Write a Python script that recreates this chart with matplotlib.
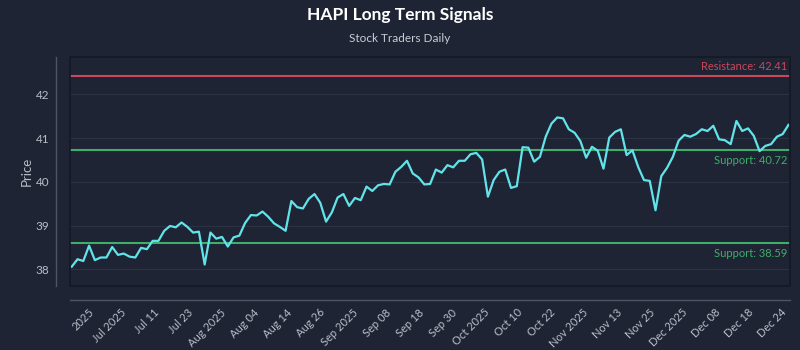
#!/usr/bin/env python3
"""
HAPI long term signals: price line with support / resistance levels
"""

import numpy as np
import matplotlib
matplotlib.use('Agg')
import matplotlib.pyplot as plt
from matplotlib.patches import Rectangle

plt.rcParams['font.family'] = ['Lato', 'DejaVu Sans']

# daily closing prices
prices = [
    38.06, 38.23, 38.19, 38.54, 38.21, 38.27, 38.27, 38.51, 38.33, 38.36,
    38.29, 38.27, 38.49, 38.46, 38.65, 38.65, 38.88, 38.99, 38.96, 39.07,
    38.97, 38.84, 38.86, 38.11, 38.84, 38.70, 38.74, 38.52, 38.73, 38.77,
    39.06, 39.24, 39.23, 39.32, 39.20, 39.05, 38.97, 38.88, 39.56, 39.42,
    39.39, 39.61, 39.72, 39.52, 39.09, 39.30, 39.64, 39.72, 39.45, 39.63,
    39.58, 39.89, 39.79, 39.92, 39.95, 39.94, 40.23, 40.34, 40.48, 40.19,
    40.10, 39.94, 39.95, 40.28, 40.21, 40.38, 40.33, 40.48, 40.48, 40.63,
    40.66, 40.51, 39.66, 40.04, 40.23, 40.28, 39.86, 39.90, 40.79, 40.78,
    40.46, 40.57, 41.03, 41.33, 41.47, 41.45, 41.20, 41.12, 40.93, 40.55,
    40.80, 40.71, 40.30, 41.01, 41.14, 41.20, 40.61, 40.72, 40.34, 40.04,
    40.02, 39.35, 40.13, 40.32, 40.57, 40.94, 41.07, 41.03, 41.09, 41.20,
    41.16, 41.28, 40.97, 40.95, 40.86, 41.39, 41.16, 41.22, 41.05, 40.70,
    40.82, 40.86, 41.03, 41.09, 41.30,
]

tick_labels = [
    '2025', 'Jul 2025', 'Jul 11', 'Jul 23', 'Aug 2025', 'Aug 04', 'Aug 14',
    'Aug 26', 'Sep 2025', 'Sep 08', 'Sep 18', 'Sep 30', 'Oct 2025', 'Oct 10',
    'Oct 22', 'Nov 2025', 'Nov 13', 'Nov 25', 'Dec 2025', 'Dec 08', 'Dec 18',
    'Dec 24',
]

resistance_levels = [42.41]
support_levels = [40.72, 38.59]
y_ticks = [38, 39, 40, 41, 42]

# colours
BG = '#1e2433'
GRID = '#2b3243'
FRAME = '#141925'
AXIS = '#4d5466'
LINE = '#62e3ea'
RED = '#c9485c'
GREEN = '#3fae6a'
TEXT = '#b9bdc8'


def draw_chart():
    fig = plt.figure(figsize=(8, 3.5), dpi=100, facecolor=BG)
    ax = fig.add_axes([0.0875, 0.183, 0.9006, 0.654])
    ax.set_facecolor(BG)

    # axis lines offset from the plot area (before ticks: this resets them)
    for side in ['top', 'right']:
        ax.spines[side].set_visible(False)
    for side in ['left', 'bottom']:
        ax.spines[side].set_position(('outward', 10))
        ax.spines[side].set_color(AXIS)
        ax.spines[side].set_linewidth(1)

    x = np.arange(len(prices))
    ax.plot(x, prices, color=LINE, lw=1.6, zorder=4, solid_joinstyle='round')

    # resistance / support levels
    for lvl in resistance_levels:
        ax.axhline(lvl, color=RED, lw=1.5, zorder=3)
        ax.annotate(f'Resistance: {lvl:.2f}', xy=(1, lvl),
                    xycoords=('axes fraction', 'data'), xytext=(-2.5, 3),
                    textcoords='offset points', ha='right', va='bottom',
                    color=RED, fontsize=8)
    for lvl in support_levels:
        ax.axhline(lvl, color=GREEN, lw=1.5, zorder=3)
        ax.annotate(f'Support: {lvl:.2f}', xy=(1, lvl),
                    xycoords=('axes fraction', 'data'), xytext=(-2.5, -3.5),
                    textcoords='offset points', ha='right', va='top',
                    color=GREEN, fontsize=8)

    ax.set_xlim(-0.3, len(prices) - 0.65)
    ax.set_ylim(37.62, 42.85)

    ax.tick_params(axis='both', length=0, colors=TEXT, labelsize=8.5)
    ax.tick_params(axis='x', pad=5, labelsize=8)
    ax.tick_params(axis='y', pad=5)

    ax.set_yticks(y_ticks)
    ax.set_yticklabels([str(t) for t in y_ticks])
    ax.grid(axis='y', color=GRID, lw=0.8, zorder=0)
    ax.set_axisbelow(True)

    ticks = np.linspace(2.8, 122.7, len(tick_labels))
    ax.set_xticks(ticks)
    ax.set_xticklabels(tick_labels, rotation=45, ha='right',
                       rotation_mode='anchor')

    ax.set_ylabel('Price', color=TEXT, fontsize=9.5, labelpad=2)

    # dark border round the plot area
    ax.add_patch(Rectangle((0, 0), 1, 1, transform=ax.transAxes, fill=False,
                           ec=FRAME, lw=1.2, zorder=5, clip_on=False))

    fig.text(0.5, 0.957, 'HAPI Long Term Signals', ha='center', va='center',
             color='white', fontsize=12.5, fontweight='bold')
    fig.text(0.5, 0.891, 'Stock Traders Daily', ha='center', va='center',
             color='#c8ccd6', fontsize=8.5)

    fig.savefig('out.png', dpi=100, facecolor=BG)


def main():
    draw_chart()


if __name__ == '__main__':
    main()
